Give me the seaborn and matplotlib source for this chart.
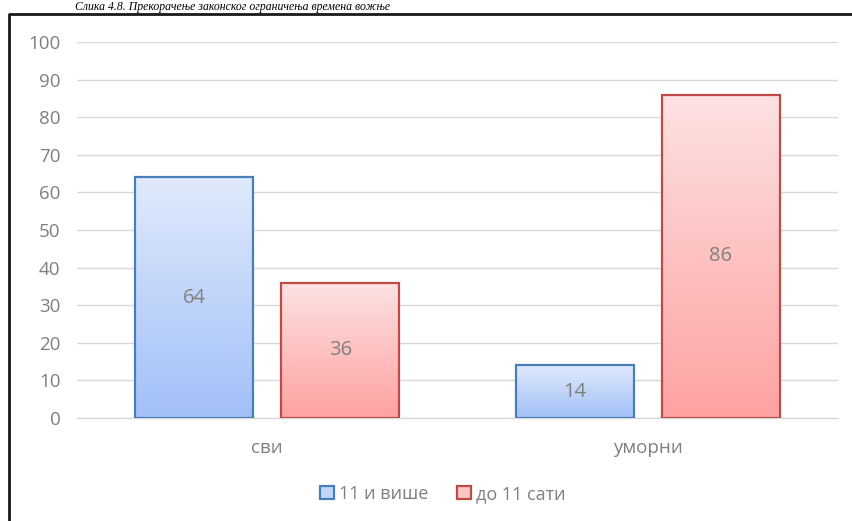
import numpy as np
import pandas as pd
import matplotlib
matplotlib.use("Agg")
import matplotlib.pyplot as plt
from matplotlib.lines import Line2D
from matplotlib.patches import Patch
from matplotlib.colors import LinearSegmentedColormap
import seaborn as sns

# Data
categories = ["сви", "уморни"]
series_names = ["11 и више", "до 11 сати"]
values_11_plus = [64, 14]
values_up_to_11 = [36, 86]
y_ticks = [0, 10, 20, 30, 40, 50, 60, 70, 80, 90, 100]
caption = "Слика 4.8. Прекорачење законског ограничења времена вожње"

df = pd.DataFrame({
    "category": categories * 2,
    "series": [series_names[0]] * len(categories) + [series_names[1]] * len(categories),
    "value": values_11_plus + values_up_to_11,
})

# Styling
edge_colors = ["#4a7ebb", "#be4b48"]
grad_top = ["#e0eafc", "#fde2e2"]
grad_bottom = ["#a2c0f8", "#ffa2a2"]
legend_fill = ["#c3d6f9", "#ffc6c6"]
text_grey = "#7f7f7f"

sns.set_theme(style="white")
plt.rcParams["font.family"] = ["Open Sans", "DejaVu Sans"]

W, H = 852, 521
fig = plt.figure(figsize=(W / 100, H / 100), dpi=100)
ax = fig.add_axes([77 / W, 1 - 418 / H, (838 - 77) / W, (418 - 42) / H])

sns.barplot(
    data=df, x="category", y="value", hue="series",
    hue_order=series_names, order=categories,
    palette=edge_colors, width=0.767, gap=0.19,
    linewidth=1.6, legend=False, ax=ax, zorder=3,
)

# Vertical gradient fill for each bar, with the series colour as outline
for i, container in enumerate(ax.containers):
    cmap = LinearSegmentedColormap.from_list(f"g{i}", [grad_bottom[i], grad_top[i]])
    grad = np.linspace(0, 1, 256).reshape(-1, 1)
    for bar in container:
        x0, y0 = bar.get_x(), bar.get_y()
        w, h = bar.get_width(), bar.get_height()
        ax.imshow(grad, cmap=cmap, origin="lower", aspect="auto",
                  extent=[x0, x0 + w, y0, y0 + h], zorder=2, interpolation="bilinear")
        bar.set_facecolor("none")
        bar.set_edgecolor(edge_colors[i])
    ax.bar_label(container, labels=[f"{v:g}" for v in container.datavalues],
                 label_type="center", color=text_grey, fontsize=14.5, zorder=5)

ax.set_xlim(-0.5, len(categories) - 0.5)
ax.set_ylim(0, 100)
ax.set_yticks(y_ticks)
ax.set_yticklabels([str(t) for t in y_ticks])
ax.set_xlabel("")
ax.set_ylabel("")
ax.yaxis.grid(True, color="#d9d9d9", linewidth=1.0, zorder=0)
ax.xaxis.grid(False)
ax.set_axisbelow(True)
for side in ["top", "right", "left"]:
    ax.spines[side].set_visible(False)
ax.spines["bottom"].set_color("#d9d9d9")
ax.spines["bottom"].set_linewidth(1.0)
ax.tick_params(axis="y", length=0, pad=12, labelsize=13.5, labelcolor=text_grey)
ax.tick_params(axis="x", length=0, pad=15, labelsize=13.5, labelcolor=text_grey)

# Legend below the plot
handles = [Patch(facecolor=legend_fill[i], edgecolor=edge_colors[i], linewidth=1.6,
                 label=series_names[i]) for i in range(len(series_names))]
leg = fig.legend(handles=handles, loc="center", bbox_to_anchor=(443 / W, 1 - 494 / H),
                 ncol=2, frameon=False, fontsize=13, handlelength=0.75, handleheight=0.75,
                 handletextpad=0.3, columnspacing=1.6)
for t in leg.get_texts():
    t.set_color(text_grey)

# Chart frame and caption above it
fig.add_artist(Line2D([9 / W, 9 / W, 1.0], [0.0, 1 - 14 / H, 1 - 14 / H],
                      transform=fig.transFigure, color="#1a1a1a", linewidth=2.0))
fig.text(75 / W, 1 - 1 / H, caption, ha="left", va="top",
         family=["Liberation Serif", "DejaVu Serif"], style="italic", fontsize=8.5, color="black")

fig.savefig("out.png", dpi=100)
